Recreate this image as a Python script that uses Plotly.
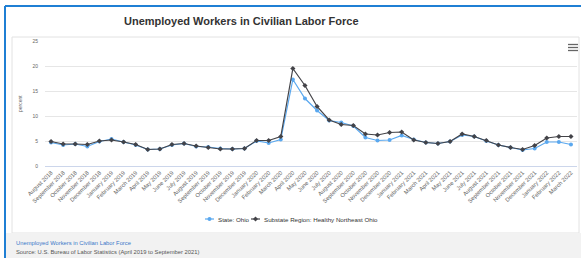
import plotly.graph_objects as go

months = ["August 2018", "September 2018", "October 2018", "November 2018", "December 2018",
          "January 2019", "February 2019", "March 2019", "April 2019", "May 2019", "June 2019",
          "July 2019", "August 2019", "September 2019", "October 2019", "November 2019", "December 2019",
          "January 2020", "February 2020", "March 2020", "April 2020", "May 2020", "June 2020",
          "July 2020", "August 2020", "September 2020", "October 2020", "November 2020", "December 2020",
          "January 2021", "February 2021", "March 2021", "April 2021", "May 2021", "June 2021",
          "July 2021", "August 2021", "September 2021", "October 2021", "November 2021", "December 2021",
          "January 2022", "February 2022", "March 2022"]

state_ohio = [4.7, 4.2, 4.4, 3.9, 4.9, 5.4, 4.8, 4.2, 3.3, 3.4, 4.2, 4.5, 3.9, 3.8, 3.5, 3.4, 3.5,
              5.0, 4.6, 5.3, 17.3, 13.5, 11.1, 9.1, 8.7, 8.0, 5.7, 5.1, 5.2, 6.1, 5.3, 4.7, 4.5, 4.9,
              6.2, 5.9, 5.0, 4.2, 3.7, 3.2, 3.5, 4.8, 4.8, 4.3]

healthy_ne_ohio = [4.9, 4.4, 4.4, 4.3, 5.0, 5.2, 4.8, 4.3, 3.3, 3.4, 4.3, 4.5, 4.0, 3.7, 3.4, 3.4, 3.5,
                   5.1, 5.1, 5.9, 19.5, 16.1, 11.9, 9.2, 8.3, 8.1, 6.4, 6.2, 6.7, 6.8, 5.2, 4.7, 4.5, 4.9,
                   6.4, 5.9, 5.1, 4.2, 3.7, 3.3, 4.1, 5.6, 5.9, 5.9]

series_names = ["State: Ohio", "Substate Region: Healthy Northeast Ohio"]
y_ticks = [0, 5, 10, 15, 20, 25]

W, H = 581, 258
L, R, T, B = 45, 4, 41, 92
pw, ph = W - L - R, H - T - B


def px(x):
    return (x - L) / pw


def py(y):
    return (H - B - y) / ph


FONT = "Liberation Sans, Arial, sans-serif"
BLUE = "#5aa8ef"
DARK = "#434348"

fig = go.Figure()
fig.add_trace(go.Scatter(x=months, y=state_ohio, name=series_names[0], mode="lines+markers",
                         line=dict(color=BLUE, width=1.2),
                         marker=dict(symbol="circle", size=4, color=BLUE)))
fig.add_trace(go.Scatter(x=months, y=healthy_ne_ohio, name=series_names[1],
                         mode="lines+markers",
                         line=dict(color=DARK, width=1.2),
                         marker=dict(symbol="diamond", size=4, color=DARK)))

shapes = [
    # inner container
    dict(type="rect", xref="paper", yref="paper", x0=px(12), x1=px(579), y0=py(233), y1=py(37),
         line=dict(color="#e2e2e2", width=1), fillcolor="rgba(0,0,0,0)", layer="below"),
    # footer band
    dict(type="rect", xref="paper", yref="paper", x0=px(6), x1=px(581), y0=py(258), y1=py(233),
         line=dict(width=0), fillcolor="#f2f2f2", layer="below"),
    # blue frame
    dict(type="line", xref="paper", yref="paper", x0=px(5), x1=px(5), y0=py(258), y1=py(6),
         line=dict(color="#1f7fd4", width=2)),
    dict(type="line", xref="paper", yref="paper", x0=px(5), x1=px(581), y0=py(6), y1=py(6),
         line=dict(color="#1f7fd4", width=2)),
    # custom legend symbols
    dict(type="line", xref="paper", yref="paper", x0=px(205), x1=px(214), y0=py(219), y1=py(219),
         line=dict(color=BLUE, width=1.2)),
    dict(type="circle", xref="paper", yref="paper", x0=px(207.5), x1=px(211.5), y0=py(221), y1=py(217),
         line=dict(color=BLUE, width=0), fillcolor=BLUE),
    dict(type="line", xref="paper", yref="paper", x0=px(251), x1=px(260), y0=py(219), y1=py(219),
         line=dict(color=DARK, width=1.2)),
    dict(type="path", xref="paper", yref="paper",
         path=f"M {px(255.5)},{py(216.5)} L {px(258)},{py(219)} L {px(255.5)},{py(221.5)} L {px(253)},{py(219)} Z",
         line=dict(color=DARK, width=0), fillcolor=DARK),
]
for yy in (44.5, 47.5, 50.5):
    shapes.append(dict(type="line", xref="paper", yref="paper", x0=px(568), x1=px(578),
                       y0=py(yy), y1=py(yy), line=dict(color="#666666", width=1.3)))

annotations = [
    dict(text="<b>Unemployed Workers in Civilian Labor Force</b>", xref="paper", yref="paper",
         x=px(241), y=py(21), showarrow=False, xanchor="center", yanchor="middle",
         font=dict(family=FONT, size=11, color="#333333")),
    dict(text="percent", xref="paper", yref="paper", x=px(20), y=py(104), showarrow=False,
         textangle=-90, xanchor="center", yanchor="middle",
         font=dict(family=FONT, size=5, color="#666666")),
    dict(text=series_names[0], xref="paper", yref="paper", x=px(216), y=py(219), showarrow=False,
         xanchor="left", yanchor="middle", font=dict(family=FONT, size=6.2, color="#333333")),
    dict(text=series_names[1], xref="paper", yref="paper", x=px(262), y=py(219), showarrow=False,
         xanchor="left", yanchor="middle", font=dict(family=FONT, size=6.2, color="#333333")),
    dict(text="Unemployed Workers in Civilian Labor Force", xref="paper", yref="paper",
         x=px(14), y=py(243), showarrow=False, xanchor="left", yanchor="middle",
         font=dict(family=FONT, size=5.8, color="#3a78c9")),
    dict(text="Source: U.S. Bureau of Labor Statistics (April 2019 to September 2021)", xref="paper",
         yref="paper", x=px(14), y=py(252), showarrow=False, xanchor="left", yanchor="middle",
         font=dict(family=FONT, size=5.8, color="#555555")),
]

fig.update_layout(
    width=W, height=H,
    margin=dict(l=L, r=R, t=T, b=B),
    paper_bgcolor="white", plot_bgcolor="white",
    font=dict(family=FONT, size=5, color="#666666"),
    showlegend=False,
    shapes=shapes,
    annotations=annotations,
)
fig.update_xaxes(type="category", range=[-0.5, len(months) - 0.5], tickangle=-45,
                 showgrid=False, showline=True, linecolor="#ccd6eb", linewidth=1,
                 tickfont=dict(family=FONT, size=5.8, color="#666666"), ticks="", zeroline=False)
fig.update_yaxes(range=[0, 25], tickvals=y_ticks, showgrid=True, gridcolor="#e6e6e6", gridwidth=1,
                 zeroline=False, showline=False, ticklabelstandoff=6,
                 tickfont=dict(family=FONT, size=5, color="#666666"))

fig.write_html("out.html", config={"displayModeBar": False},
               post_script="document.body.style.margin='0';document.body.style.overflow='hidden';")
